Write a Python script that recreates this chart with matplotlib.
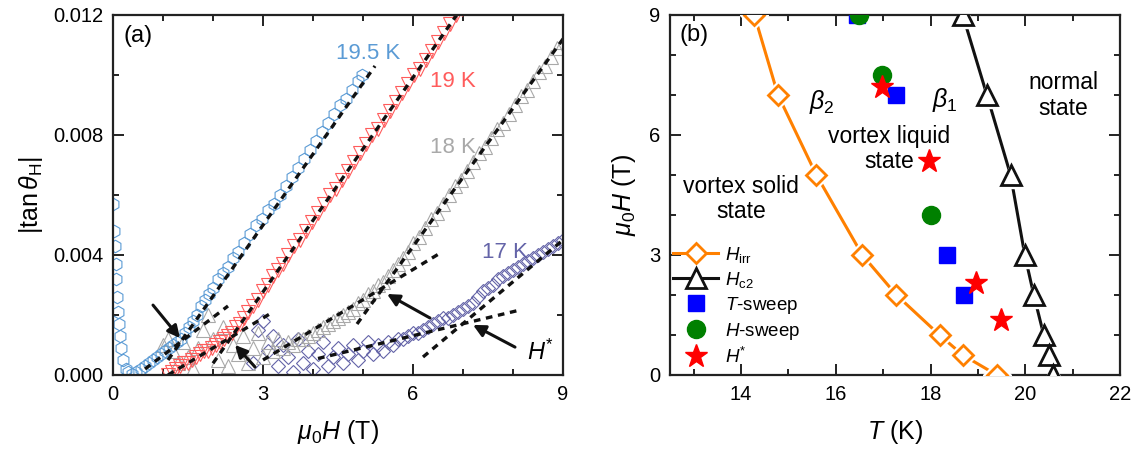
import matplotlib
matplotlib.use("Agg")
import matplotlib.pyplot as plt
from matplotlib.lines import Line2D
from matplotlib.ticker import MultipleLocator

plt.rcParams['font.family'] = ['Liberation Sans', 'DejaVu Sans']
plt.rcParams['mathtext.fontset'] = 'custom'
plt.rcParams['mathtext.rm'] = 'Liberation Sans'
plt.rcParams['mathtext.it'] = 'Liberation Sans:italic'
plt.rcParams['mathtext.bf'] = 'Liberation Sans:bold'

# ---------------- panel (a): |tan theta_H| vs field ----------------
h195 = [0.00, 0.02, 0.03, 0.05, 0.06, 0.08, 0.09, 0.11, 0.13, 0.16, 0.20, 0.25, 0.30, 0.38,
        0.46, 0.55, 0.64, 0.72, 0.80, 0.88, 0.96, 1.04, 1.12, 1.20, 1.28, 1.36, 1.44, 1.52,
        1.60, 1.68, 1.76, 1.84, 1.92, 2.00, 2.10, 2.20, 2.30, 2.40, 2.50, 2.62, 2.74, 2.86,
        2.98, 3.10, 3.22, 3.34, 3.46, 3.58, 3.70, 3.82, 3.94, 4.06, 4.18, 4.30, 4.42, 4.54,
        4.66, 4.78, 4.90, 4.98]
t195 = [0.0057, 0.0048, 0.0043, 0.0037, 0.0032, 0.0026, 0.0021, 0.0017, 0.0013, 0.0009,
        0.0005, 0.0002, 0.0001, 0.00005, 0.0001, 0.0002, 0.0003, 0.0004, 0.0005, 0.0006,
        0.0007, 0.0008, 0.0009, 0.0010, 0.0011, 0.0012, 0.0014, 0.0016, 0.0018, 0.0020,
        0.0023, 0.0025, 0.0027, 0.0029, 0.0032, 0.0034, 0.0036, 0.0039, 0.0041, 0.0044,
        0.0047, 0.0050, 0.0052, 0.0055, 0.0057, 0.0060, 0.0063, 0.0066, 0.0069, 0.0072,
        0.0075, 0.0078, 0.0081, 0.0084, 0.0087, 0.0090, 0.0092, 0.0095, 0.0098, 0.0100]

h19 = [1.10, 1.18, 1.26, 1.34, 1.42, 1.50, 1.58, 1.66, 1.74, 1.82, 1.90, 1.98, 2.06, 2.14,
       2.22, 2.30, 2.38, 2.46, 2.54, 2.62, 2.70, 2.80, 2.90, 3.00, 3.10, 3.20, 3.30, 3.40,
       3.50, 3.62, 3.74, 3.86, 3.98, 4.10, 4.22, 4.34, 4.46, 4.58, 4.70, 4.82, 4.94, 5.06,
       5.18, 5.30, 5.42, 5.54, 5.66, 5.78, 5.90, 6.02, 6.14, 6.26, 6.38, 6.50, 6.62, 6.74,
       6.86, 6.98]
t19 = [0.0000, 0.0001, 0.0002, 0.0003, 0.0004, 0.0004, 0.0005, 0.0006, 0.0007, 0.0008,
       0.0008, 0.0009, 0.0010, 0.0011, 0.0012, 0.0013, 0.0014, 0.0016, 0.0017, 0.0019,
       0.0021, 0.0023, 0.0025, 0.0028, 0.0030, 0.0033, 0.0035, 0.0037, 0.0040, 0.0043,
       0.0045, 0.0048, 0.0051, 0.0054, 0.0057, 0.0060, 0.0062, 0.0065, 0.0068, 0.0071,
       0.0074, 0.0077, 0.0080, 0.0082, 0.0085, 0.0088, 0.0091, 0.0094, 0.0097, 0.0100,
       0.0102, 0.0105, 0.0108, 0.0111, 0.0114, 0.0117, 0.0120, 0.0122]

h18 = [1.00, 1.10, 1.20, 1.30, 1.40, 1.50, 1.60, 1.70, 1.80, 1.90, 2.00, 2.10, 2.20, 2.30,
       2.40, 2.50, 2.60, 2.70, 2.80, 2.90, 3.00, 3.10, 3.20, 3.30, 3.40, 3.50, 3.60, 3.70,
       3.80, 3.90, 4.00, 4.10, 4.20, 4.30, 4.40, 4.50, 4.60, 4.70, 4.80, 4.90, 5.00, 5.10,
       5.20, 5.30, 5.40, 5.50, 5.60, 5.70, 5.80, 5.90, 6.00, 6.12, 6.24, 6.36, 6.48, 6.60,
       6.72, 6.84, 6.96, 7.08, 7.20, 7.32, 7.44, 7.56, 7.68, 7.80, 7.92, 8.04, 8.16, 8.28,
       8.40, 8.52, 8.64, 8.76, 8.88, 9.00]
t18 = [0.0010, 0.0012, 0.0008, 0.0004, 0.0011, 0.0006, 0.0002, 0.0009, 0.0015, 0.0020,
       0.0012, 0.0005, 0.0016, 0.0003, 0.0010, 0.0007, 0.0013, 0.0004, 0.0009, 0.0014,
       0.0006, 0.0011, 0.0008, 0.0012, 0.0009, 0.0011, 0.0010, 0.0012, 0.0012, 0.0013,
       0.0014, 0.0015, 0.0016, 0.0017, 0.0018, 0.0019, 0.0020, 0.0021, 0.0022, 0.0024,
       0.0025, 0.0027, 0.0028, 0.0030, 0.0031, 0.0033, 0.0035, 0.0037, 0.0039, 0.0041,
       0.0044, 0.0046, 0.0049, 0.0052, 0.0054, 0.0057, 0.0060, 0.0063, 0.0065, 0.0068,
       0.0071, 0.0074, 0.0076, 0.0079, 0.0082, 0.0084, 0.0087, 0.0090, 0.0093, 0.0095,
       0.0098, 0.0101, 0.0103, 0.0106, 0.0109, 0.0111]

h17 = [2.80, 2.90, 3.00, 3.10, 3.20, 3.30, 3.40, 3.50, 3.60, 3.70, 3.80, 3.90, 4.00, 4.10,
       4.20, 4.30, 4.40, 4.50, 4.60, 4.70, 4.80, 4.90, 5.00, 5.10, 5.20, 5.30, 5.40, 5.50,
       5.60, 5.70, 5.80, 5.90, 6.00, 6.10, 6.20, 6.30, 6.40, 6.50, 6.60, 6.70, 6.80, 6.90,
       7.00, 7.10, 7.20, 7.30, 7.40, 7.50, 7.60, 7.70, 7.80, 7.90, 8.00, 8.10, 8.20, 8.30,
       8.40, 8.50, 8.60, 8.70, 8.80, 8.90, 9.00]
t17 = [0.0004, 0.0015, 0.0018, 0.0008, 0.0013, 0.0003, 0.0010, 0.0006, 0.0001, 0.0012,
       0.0004, 0.0008, 0.0002, 0.0007, 0.0011, 0.0003, 0.0006, 0.0009, 0.0004, 0.0007,
       0.0010, 0.0005, 0.0008, 0.0011, 0.0007, 0.0010, 0.0008, 0.0011, 0.0010, 0.0012,
       0.0012, 0.0013, 0.0014, 0.0014, 0.0015, 0.0016, 0.0017, 0.0018, 0.0019, 0.0019,
       0.0020, 0.0021, 0.0022, 0.0023, 0.0024, 0.0026, 0.0028, 0.0029, 0.0030, 0.0032,
       0.0033, 0.0034, 0.0035, 0.0036, 0.0037, 0.0038, 0.0039, 0.0040, 0.0041, 0.0042,
       0.0043, 0.0044, 0.0045]

# dashed linear fits (low-field and high-field) for each temperature
fit_h = [[0.64, 2.30], [1.10, 5.24], [1.10, 3.20], [2.00, 7.00],
         [3.00, 6.58], [4.88, 9.00], [4.10, 8.10], [6.20, 9.00]]
fit_t = [[0.0002, 0.0023], [0.0005, 0.0103], [0.0000, 0.0021], [0.00039, 0.0123],
         [0.0005, 0.0041], [0.0017, 0.0112], [0.00055, 0.00215], [0.0006, 0.0045]]

# H* arrows: (tail, head)
arrow_tail = [(0.80, 0.00233), (2.84, 0.00027), (6.34, 0.0019), (8.04, 0.00093)]
arrow_head = [(1.34, 0.00123), (2.44, 0.0010), (5.48, 0.0027), (7.20, 0.00167)]

# ---------------- panel (b): phase diagram ----------------
t_irr = [14.28, 14.78, 15.59, 16.56, 17.28, 18.19, 18.68, 19.40]
h_irr = [9, 7, 5, 3, 2, 1, 0.5, 0]
t_c2 = [18.68, 19.19, 19.69, 19.99, 20.18, 20.39, 20.50, 20.58]
h_c2 = [9, 7, 5, 3, 2, 1, 0.5, 0]
t_tsweep = [16.45, 17.28, 18.34, 18.70]
h_tsweep = [9, 7, 3, 2]
t_hsweep = [16.48, 16.98, 18.00]
h_hsweep = [9, 7.5, 4]
t_star = [16.98, 17.96, 18.97, 19.48]
h_star = [7.2, 5.36, 2.3, 1.37]

c_blue = '#5b9bd5'
c_red = '#ff5c5c'
c_gray = '#a9a9a9'
c_purple = '#6464a8'
c_orange = '#ff8000'

fig = plt.figure(figsize=(11.39, 4.54), dpi=100)
ax1 = fig.add_axes([113 / 1139, 79 / 454, 450 / 1139, 360 / 454])
ax2 = fig.add_axes([670 / 1139, 79 / 454, 450 / 1139, 360 / 454])


def style_axes(ax):
    for s in ax.spines.values():
        s.set_linewidth(1.6)
        s.set_color('#222222')
    ax.tick_params(which='both', direction='in', top=True, right=True,
                   width=1.4, labelsize=14.5, pad=7, color='#222222')
    ax.tick_params(which='major', length=8)
    ax.tick_params(which='minor', length=4.5)


# panel (a)
mk = dict(linestyle='none', mfc='none', mew=0.8, clip_on=True)
ax1.plot(h17, t17, marker='D', ms=7.5, mec=c_purple, **mk)
ax1.plot(h18, t18, marker='^', ms=10, mec=c_gray, **mk)
ax1.plot(h19, t19, marker='v', ms=10, mec=c_red, **mk)
ax1.plot(h195, t195, marker='h', ms=9, mec=c_blue, **mk)
for fx, fy in zip(fit_h, fit_t):
    ax1.plot(fx, fy, color='#111111', lw=2.4, dashes=(2.0, 1.7))
for tail, head in zip(arrow_tail, arrow_head):
    ax1.annotate('', xy=head, xytext=tail,
                 arrowprops=dict(arrowstyle='-|>', color='#111111', lw=2.2,
                                 mutation_scale=18, shrinkA=0, shrinkB=0))

ax1.text(5.1, 0.01073, '19.5 K', color=c_blue, fontsize=16, ha='center', va='center')
ax1.text(6.8, 0.00977, '19 K', color=c_red, fontsize=16, ha='center', va='center')
ax1.text(6.8, 0.00757, '18 K', color=c_gray, fontsize=16, ha='center', va='center')
ax1.text(7.84, 0.0041, '17 K', color=c_purple, fontsize=16, ha='center', va='center')
ax1.text(8.28, 0.00075, r'$H^{*}$', fontsize=17, ha='left', va='center')
ax1.text(0.5, 0.0113, '(a)', fontsize=17, ha='center', va='center')

ax1.set_xlim(0, 9)
ax1.set_ylim(0, 0.012)
ax1.xaxis.set_major_locator(MultipleLocator(3))
ax1.xaxis.set_minor_locator(MultipleLocator(1))
ax1.yaxis.set_major_locator(MultipleLocator(0.004))
ax1.yaxis.set_minor_locator(MultipleLocator(0.002))
ax1.yaxis.set_major_formatter(matplotlib.ticker.FormatStrFormatter('%.3f'))
ax1.set_xlabel(r'$\mu_0H$ (T)', fontsize=18, labelpad=10)
ax1.set_ylabel(r'|tan$\,\theta_{\rm H}$|', fontsize=18, labelpad=6)
style_axes(ax1)

# panel (b)
ax2.plot(t_irr, h_irr, color=c_orange, lw=2.2, zorder=2)
ax2.plot(t_irr, h_irr, linestyle='none', marker='D', ms=14, mfc='white', mec='white', zorder=3)
ax2.plot(t_irr, h_irr, linestyle='none', marker='D', ms=10.5, mfc='white', mec=c_orange,
         mew=2, zorder=4)
ax2.plot(t_c2, h_c2, color='#111111', lw=2.2, zorder=2)
ax2.plot(t_c2, h_c2, linestyle='none', marker='^', ms=18, mfc='white', mec='white', zorder=3)
ax2.plot(t_c2, h_c2, linestyle='none', marker='^', ms=14, mfc='white', mec='#111111',
         mew=2, zorder=4)
ax2.plot(t_tsweep, h_tsweep, linestyle='none', marker='s', ms=12, color='#0000ff', zorder=5)
ax2.plot(t_hsweep, h_hsweep, linestyle='none', marker='o', ms=13, color='#008000', zorder=6)
ax2.plot(t_star, h_star, linestyle='none', marker='*', ms=17, color='#ff0000', zorder=7)

ax2.text(14.0, 4.4, 'vortex solid\nstate', fontsize=16.5, ha='center', va='center',
         linespacing=1.15)
ax2.text(17.13, 5.65, 'vortex liquid\nstate', fontsize=16.5, ha='center', va='center',
         linespacing=1.15)
ax2.text(20.8, 6.98, 'normal\nstate', fontsize=16.5, ha='center', va='center',
         linespacing=1.15)
ax2.text(15.71, 6.83, r'$\beta_2$', fontsize=18, ha='center', va='center')
ax2.text(18.3, 6.87, r'$\beta_1$', fontsize=18, ha='center', va='center')
ax2.text(13.0, 8.5, '(b)', fontsize=17, ha='center', va='center')

handles = [
    Line2D([], [], color=c_orange, lw=2.2, marker='D', ms=10.5, mfc='white', mec=c_orange, mew=2),
    Line2D([], [], color='#111111', lw=2.2, marker='^', ms=14, mfc='white', mec='#111111', mew=2),
    Line2D([], [], linestyle='none', marker='s', ms=12, color='#0000ff'),
    Line2D([], [], linestyle='none', marker='o', ms=13, color='#008000'),
    Line2D([], [], linestyle='none', marker='*', ms=17, color='#ff0000'),
]
labels = [r'$H_{\rm irr}$', r'$H_{\rm c2}$', r'$T$-sweep', r'$H$-sweep', r'$H^{*}$']
ax2.legend(handles, labels, loc='upper left', bbox_to_anchor=(0.007, 0.362), frameon=False,
           fontsize=13.5, handlelength=2.4, handletextpad=0.35, labelspacing=0.27,
           borderpad=0, borderaxespad=0)

ax2.set_xlim(12.5, 22)
ax2.set_ylim(0, 9)
ax2.xaxis.set_major_locator(MultipleLocator(2))
ax2.xaxis.set_minor_locator(MultipleLocator(1))
ax2.yaxis.set_major_locator(MultipleLocator(3))
ax2.yaxis.set_minor_locator(MultipleLocator(1))
ax2.set_xlabel(r'$T$ (K)', fontsize=18, labelpad=10)
ax2.set_ylabel(r'$\mu_0H$ (T)', fontsize=18, labelpad=8)
style_axes(ax2)

fig.savefig('out.png', dpi=100)
